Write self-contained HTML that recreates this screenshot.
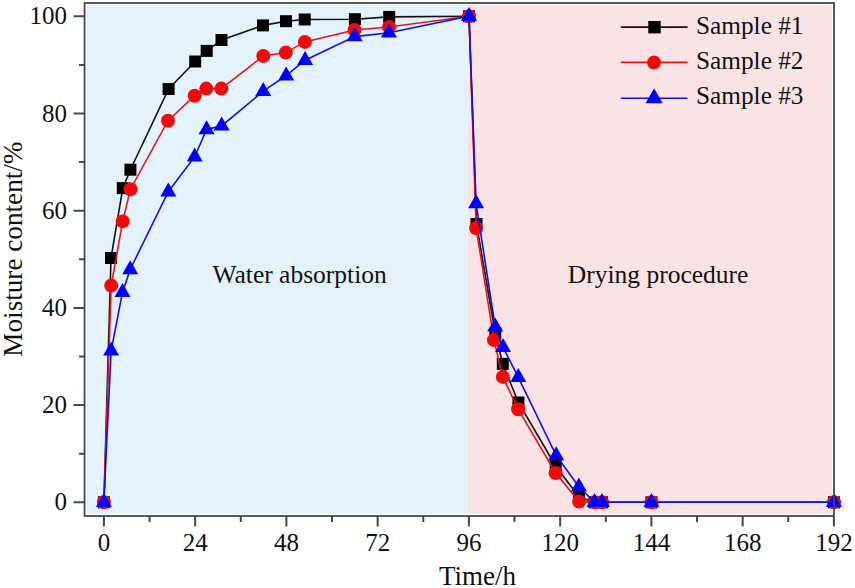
<!DOCTYPE html>
<html><head><meta charset="utf-8"><style>
html,body{margin:0;padding:0;background:#fff;}
body{width:855px;height:588px;overflow:hidden;}
svg{display:block;font-family:"Liberation Serif",serif;}
</style></head><body>
<svg width="855" height="588" viewBox="0 0 855 588">
<rect x="0" y="0" width="855" height="588" fill="#fff"/>
<rect x="86.6" y="5.2" width="381.10" height="508.60" fill="#e3f2fb"/>
<rect x="467.7" y="5.2" width="364.20" height="508.60" fill="#f9e3e5"/>

<path d="M103.90,516V526.5 M195.15,516V526.5 M286.40,516V526.5 M377.65,516V526.5 M468.90,516V526.5 M560.15,516V526.5 M651.40,516V526.5 M742.65,516V526.5 M833.90,516V526.5 M149.53,516V522 M240.78,516V522 M332.02,516V522 M423.27,516V522 M514.52,516V522 M605.77,516V522 M697.02,516V522 M788.27,516V522 M73.5,502.30H84.55 M73.5,405.10H84.55 M73.5,307.90H84.55 M73.5,210.70H84.55 M73.5,113.50H84.55 M73.5,16.30H84.55 M79,453.70H84.55 M79,356.50H84.55 M79,259.30H84.55 M79,162.10H84.55 M79,64.90H84.55" stroke="#45484b" stroke-width="2" fill="none"/>
<g font-size="25" fill="#111"><text x="103.90" y="551.2" text-anchor="middle">0</text><text x="195.15" y="551.2" text-anchor="middle">24</text><text x="286.40" y="551.2" text-anchor="middle">48</text><text x="377.65" y="551.2" text-anchor="middle">72</text><text x="468.90" y="551.2" text-anchor="middle">96</text><text x="560.15" y="551.2" text-anchor="middle">120</text><text x="651.40" y="551.2" text-anchor="middle">144</text><text x="742.65" y="551.2" text-anchor="middle">168</text><text x="833.90" y="551.2" text-anchor="middle">192</text><text x="67" y="510.30" text-anchor="end">0</text><text x="67" y="413.10" text-anchor="end">20</text><text x="67" y="315.90" text-anchor="end">40</text><text x="67" y="218.70" text-anchor="end">60</text><text x="67" y="121.50" text-anchor="end">80</text><text x="67" y="24.30" text-anchor="end">100</text></g>
<text x="477.6" y="585.4" font-size="27" text-anchor="middle" fill="#111">Time/h</text>
<text transform="translate(21.8,249.1) rotate(-90)" font-size="27.2" text-anchor="middle" fill="#111">Moisture content/%</text>
<text x="212.5" y="282.6" font-size="25.5" fill="#111">Water absorption</text>
<text x="567.8" y="282.6" font-size="25.5" fill="#111">Drying procedure</text>
<polyline points="103.9,502.3 111.0,258.0 122.8,188.1 130.4,169.7 168.6,89.0 195.2,61.5 206.7,50.9 221.5,40.0 263.0,25.4 286.0,21.2 304.7,19.5 354.9,19.2 389.2,16.9 469.0,16.3 476.5,224.0 495.3,333.5 502.8,363.9 518.4,402.5 555.7,466.0 579.0,497.0 594.5,502.3 602.0,502.3 651.5,502.3 834.0,502.3" fill="none" stroke="#111" stroke-width="1.6"/>
<g fill="#000"><rect x="97.9" y="496.3" width="12.0" height="12.0"/><rect x="105.0" y="252.0" width="12.0" height="12.0"/><rect x="116.8" y="182.1" width="12.0" height="12.0"/><rect x="124.4" y="163.7" width="12.0" height="12.0"/><rect x="162.6" y="83.0" width="12.0" height="12.0"/><rect x="189.2" y="55.5" width="12.0" height="12.0"/><rect x="200.7" y="44.9" width="12.0" height="12.0"/><rect x="215.5" y="34.0" width="12.0" height="12.0"/><rect x="257.0" y="19.4" width="12.0" height="12.0"/><rect x="280.0" y="15.2" width="12.0" height="12.0"/><rect x="298.7" y="13.5" width="12.0" height="12.0"/><rect x="348.9" y="13.2" width="12.0" height="12.0"/><rect x="383.2" y="10.9" width="12.0" height="12.0"/><rect x="463.0" y="10.3" width="12.0" height="12.0"/><rect x="470.5" y="218.0" width="12.0" height="12.0"/><rect x="489.3" y="327.5" width="12.0" height="12.0"/><rect x="496.8" y="357.9" width="12.0" height="12.0"/><rect x="512.4" y="396.5" width="12.0" height="12.0"/><rect x="549.7" y="460.0" width="12.0" height="12.0"/><rect x="573.0" y="491.0" width="12.0" height="12.0"/><rect x="588.5" y="496.3" width="12.0" height="12.0"/><rect x="596.0" y="496.3" width="12.0" height="12.0"/><rect x="645.5" y="496.3" width="12.0" height="12.0"/><rect x="828.0" y="496.3" width="12.0" height="12.0"/></g>
<polyline points="103.9,502.3 111.2,285.6 122.7,221.4 130.5,189.2 168.0,120.7 194.7,95.7 206.3,88.6 221.3,88.6 263.3,56.0 285.8,52.6 304.9,41.9 354.5,30.0 389.0,27.0 469.0,16.3 476.2,228.2 494.0,340.1 502.8,376.9 518.1,409.2 555.6,473.0 579.1,501.6 594.5,502.3 602.0,502.3 651.5,502.3 834.0,502.3" fill="none" stroke="#e8141c" stroke-width="1.6"/>
<g fill="#f00a0a"><circle cx="103.9" cy="502.3" r="7.0"/><circle cx="111.2" cy="285.6" r="7.0"/><circle cx="122.7" cy="221.4" r="7.0"/><circle cx="130.5" cy="189.2" r="7.0"/><circle cx="168.0" cy="120.7" r="7.0"/><circle cx="194.7" cy="95.7" r="7.0"/><circle cx="206.3" cy="88.6" r="7.0"/><circle cx="221.3" cy="88.6" r="7.0"/><circle cx="263.3" cy="56.0" r="7.0"/><circle cx="285.8" cy="52.6" r="7.0"/><circle cx="304.9" cy="41.9" r="7.0"/><circle cx="354.5" cy="30.0" r="7.0"/><circle cx="389.0" cy="27.0" r="7.0"/><circle cx="469.0" cy="16.3" r="7.0"/><circle cx="476.2" cy="228.2" r="7.0"/><circle cx="494.0" cy="340.1" r="7.0"/><circle cx="502.8" cy="376.9" r="7.0"/><circle cx="518.1" cy="409.2" r="7.0"/><circle cx="555.6" cy="473.0" r="7.0"/><circle cx="579.1" cy="501.6" r="7.0"/><circle cx="594.5" cy="502.3" r="7.0"/><circle cx="602.0" cy="502.3" r="7.0"/><circle cx="651.5" cy="502.3" r="7.0"/><circle cx="834.0" cy="502.3" r="7.0"/></g>
<polyline points="103.9,502.3 111.1,350.9 122.5,292.2 130.2,269.5 168.3,191.7 194.7,156.7 206.6,129.5 221.6,125.9 263.2,91.2 286.2,75.7 305.1,60.2 354.7,36.6 388.9,32.8 469.0,16.3 476.1,203.5 495.2,326.9 503.0,347.2 518.3,377.4 556.2,455.5 578.9,486.8 594.5,502.3 602.0,502.3 651.5,502.3 834.0,502.3" fill="none" stroke="#1010e8" stroke-width="1.6"/>
<g fill="#0000ff"><polygon points="103.9,493.0 111.9,507.0 95.9,507.0"/><polygon points="111.1,341.6 119.1,355.6 103.1,355.6"/><polygon points="122.5,282.9 130.5,296.9 114.5,296.9"/><polygon points="130.2,260.2 138.2,274.2 122.2,274.2"/><polygon points="168.3,182.4 176.3,196.4 160.3,196.4"/><polygon points="194.7,147.4 202.7,161.4 186.7,161.4"/><polygon points="206.6,120.2 214.6,134.2 198.6,134.2"/><polygon points="221.6,116.6 229.6,130.6 213.6,130.6"/><polygon points="263.2,81.9 271.2,95.9 255.2,95.9"/><polygon points="286.2,66.4 294.2,80.4 278.2,80.4"/><polygon points="305.1,50.9 313.1,64.9 297.1,64.9"/><polygon points="354.7,27.3 362.7,41.3 346.7,41.3"/><polygon points="388.9,23.5 396.9,37.5 380.9,37.5"/><polygon points="469.0,7.0 477.0,21.0 461.0,21.0"/><polygon points="476.1,194.2 484.1,208.2 468.1,208.2"/><polygon points="495.2,317.6 503.2,331.6 487.2,331.6"/><polygon points="503.0,337.9 511.0,351.9 495.0,351.9"/><polygon points="518.3,368.1 526.3,382.1 510.3,382.1"/><polygon points="556.2,446.2 564.2,460.2 548.2,460.2"/><polygon points="578.9,477.5 586.9,491.5 570.9,491.5"/><polygon points="594.5,493.0 602.5,507.0 586.5,507.0"/><polygon points="602.0,493.0 610.0,507.0 594.0,507.0"/><polygon points="651.5,493.0 659.5,507.0 643.5,507.0"/><polygon points="834.0,493.0 842.0,507.0 826.0,507.0"/></g>
<path d="M620.8,27.1H687.5" stroke="#111" stroke-width="1.6"/>
<g fill="#000"><rect x="648.3" y="21.0" width="12.4" height="12.4"/></g>
<path d="M620.8,62.4H687.5" stroke="#e8141c" stroke-width="1.6"/>
<g fill="#f00a0a"><circle cx="654.0" cy="62.6" r="7.0"/></g>
<path d="M620.8,98.3H687.5" stroke="#1010e8" stroke-width="1.6"/>
<g fill="#0000ff"><polygon points="654.1,88.3 662.6,103.3 645.6,103.3"/></g>
<g font-size="25.3" fill="#111"><text x="696" y="34.3">Sample #1</text><text x="696" y="69.2">Sample #2</text><text x="696" y="104">Sample #3</text></g>
<rect x="84.55" y="3" width="749.45" height="513" fill="none" stroke="#45484b" stroke-width="1.8"/>
</svg></body></html>
